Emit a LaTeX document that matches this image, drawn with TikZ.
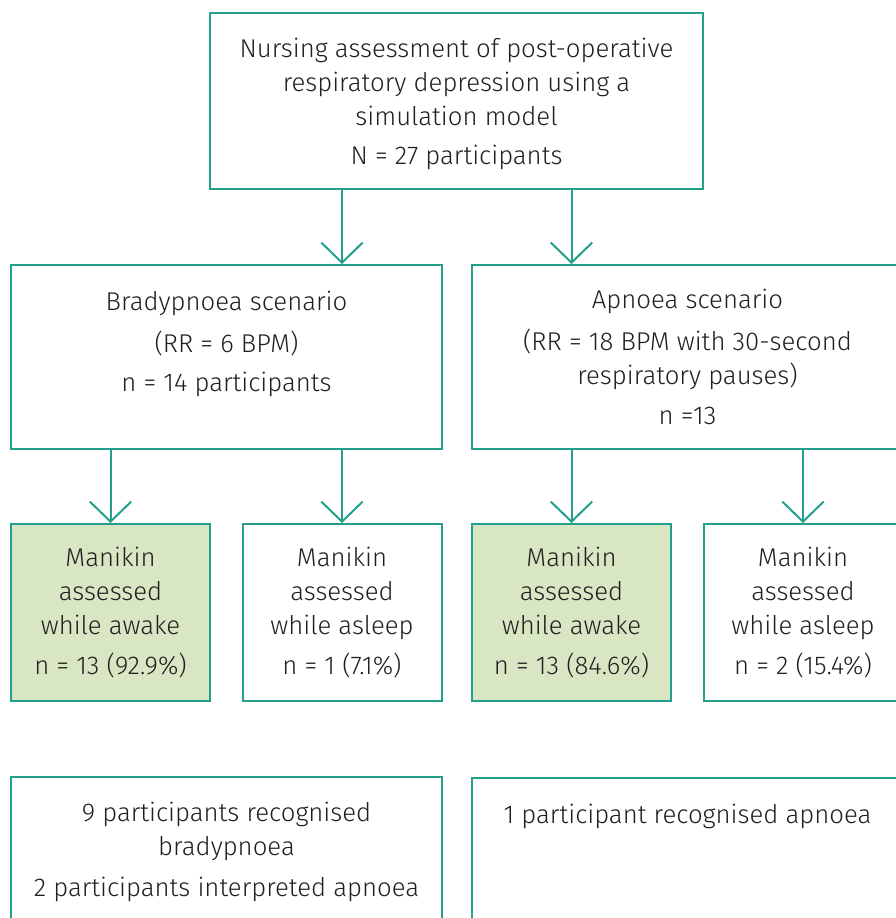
\documentclass[tikz,border=0pt]{standalone}
\usepackage{fontspec}
\setmainfont{Fira Sans}[UprightFont=* Light]
\usepackage{xcolor}
\usepackage{tikz}
\usetikzlibrary{arrows.meta,positioning}

\definecolor{tealline}{HTML}{22A08C}
\definecolor{awakefill}{HTML}{D8E6C4}
\definecolor{inktext}{HTML}{231F20}

\begin{document}
\begin{tikzpicture}[
  x=0.75pt, y=-0.75pt,
  font=\fontsize{19.3}{25.5}\selectfont, text=inktext,
  box/.style={draw=tealline, line width=1.5pt, align=center, fill=white},
  wide/.style={box, minimum width=323.25pt, minimum height=138pt},
  small/.style={box, minimum width=149.25pt, minimum height=132.75pt},
  awake/.style={small, fill=awakefill},
  result/.style={box, minimum width=323.25pt, minimum height=112.5pt},
  arr/.style={draw=tealline, line width=1.5pt, {-Straight Barb[length=15pt,width=31pt]}}
]
\useasboundingbox (0,0) rectangle (896,918);
\clip (0,0) rectangle (896,918);
\node[box, minimum width=369.75pt, minimum height=132pt, text depth=-5pt] (top) at (456.5,101)
  {Nursing assessment of post-operative\\respiratory depression using a\\simulation model\\[4pt]N = 27 participants};
\node[wide, text depth=24pt] (brady) at (226.5,357) {Bradypnoea scenario\\[6pt](RR = 6 BPM)\\[4pt]n = 14 participants};
\node[wide] (apnoea) at (687.5,357) {Apnoea scenario\\[6pt](RR = 18 BPM with 30-second\\respiratory pauses)\\[5pt]n =13};
\node[awake] (awakeA) at (110.5,612.5) {Manikin\\assessed\\while awake\\[5pt]n = 13 (92.9\%)};
\node[small] (asleepA) at (342,612.5) {Manikin\\assessed\\while asleep\\[5pt]n = 1 (7.1\%)};
\node[awake] (awakeB) at (571.5,612.5) {Manikin\\assessed\\while awake\\[5pt]n = 13 (84.6\%)};
\node[small] (asleepB) at (803,612.5) {Manikin\\assessed\\while asleep\\[5pt]n = 2 (15.4\%)};
\node[result] (resultA) at (226.5,852) {9 participants recognised\\bradypnoea\\[5pt]2 participants interpreted apnoea};
\node[result, minimum height=0pt, text height=31pt, text depth=74pt, anchor=north] (resultB) at (687.5,777) {1 participant recognised apnoea};
\draw[arr] (asleepA |- top.south) -- (asleepA |- brady.north);
\draw[arr] (awakeB |- top.south) -- (awakeB |- apnoea.north);
\draw[arr] (awakeA |- brady.south) -- (awakeA.north);
\draw[arr] (asleepA |- brady.south) -- (asleepA.north);
\draw[arr] (awakeB |- apnoea.south) -- (awakeB.north);
\draw[arr] (asleepB |- apnoea.south) -- (asleepB.north);
\end{tikzpicture}
\end{document}
